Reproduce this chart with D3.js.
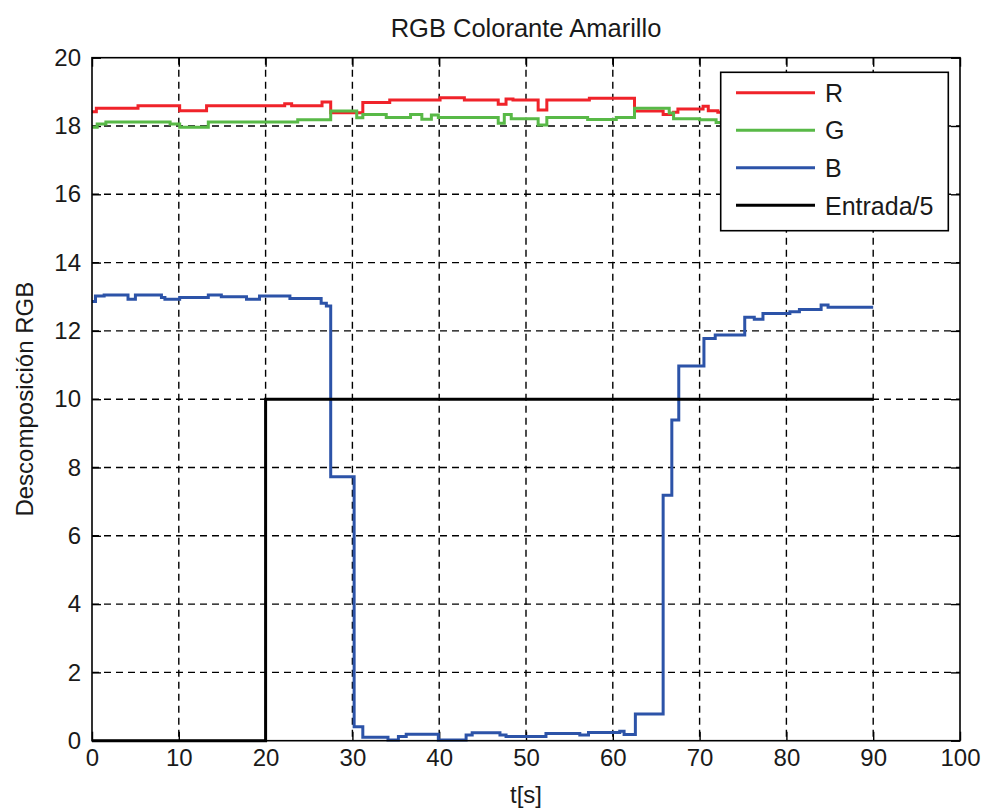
<!DOCTYPE html>
<html>
<head>
<meta charset="utf-8">
<script src="https://cdn.jsdelivr.net/npm/d3@7/dist/d3.min.js"></script>
<style>
  html, body { margin: 0; padding: 0; background: #fff; }
  svg { display: block; font-family: "Liberation Sans", Arial, sans-serif; }
</style>
</head>
<body>
<svg id="chart" width="984" height="812"></svg>
<script>
// Time breakpoints [s] and sensor readings, drawn as stair steps
const tR = [0, 0.5, 5.3, 10.1, 13.2, 22.2, 23.0, 26.5, 27.5, 31.2, 34.3, 40.1, 42.9, 46.8, 47.7, 48.5, 51.4, 52.4, 57.3, 62.5, 65.8, 67.0, 67.5, 70.4, 71.0, 72.1, 76.0, 82.0, 90.0];
const vR = [18.42, 18.52, 18.59, 18.45, 18.59, 18.65, 18.59, 18.70, 18.39, 18.69, 18.76, 18.83, 18.76, 18.64, 18.79, 18.76, 18.47, 18.76, 18.81, 18.44, 18.34, 18.40, 18.50, 18.58, 18.45, 18.40, 18.45, 18.40, 18.42];

const tG = [0, 0.6, 1.6, 9.0, 10.1, 13.4, 23.7, 27.5, 30.5, 31.2, 33.9, 36.7, 38.0, 39.1, 39.9, 46.8, 47.5, 48.3, 51.4, 52.4, 57.1, 60.4, 62.5, 66.5, 67.0, 70.0, 71.9, 76.0, 90.0];
const vG = [17.96, 18.06, 18.12, 18.06, 17.96, 18.12, 18.18, 18.44, 18.24, 18.34, 18.25, 18.34, 18.20, 18.32, 18.25, 18.08, 18.34, 18.21, 18.03, 18.25, 18.19, 18.25, 18.52, 18.38, 18.21, 18.18, 18.10, 18.12, 18.12];

const tB = [0, 0.4, 1.4, 4.15, 5.0, 8.0, 8.4, 10.1, 13.4, 14.9, 17.8, 19.3, 22.8, 26.4, 27.0, 27.5, 30.2, 31.2, 34.1, 35.3, 36.2, 39.9, 43.1, 43.8, 47.0, 47.7, 52.3, 56.2, 57.2, 60.8, 61.3, 62.6, 65.8, 66.8, 67.6, 70.5, 71.8, 75.2, 76.3, 77.3, 80.4, 81.5, 84.0, 84.8, 90.0];
const vB = [12.86, 13.02, 13.05, 12.93, 13.05, 12.98, 12.93, 12.98, 13.05, 13.00, 12.93, 13.02, 12.95, 12.81, 12.73, 7.73, 0.41, 0.10, 0.02, 0.12, 0.19, 0.02, 0.17, 0.23, 0.17, 0.12, 0.21, 0.17, 0.24, 0.28, 0.18, 0.78, 7.19, 9.39, 10.97, 11.78, 11.88, 12.40, 12.34, 12.51, 12.56, 12.63, 12.76, 12.69, 12.69];

const tIn = [0, 20, 90];
const vIn = [0, 10, 10];

const seriesNames = ["R", "G", "B", "Entrada/5"];
const seriesColors = ["#f0232a", "#58b947", "#2c53a8", "#000000"];

const xTicks = [0, 10, 20, 30, 40, 50, 60, 70, 80, 90, 100];
const yTicks = [0, 2, 4, 6, 8, 10, 12, 14, 16, 18, 20];

const titleText = "RGB Colorante Amarillo";
const xLabel = "t[s]";
const yLabel = "Descomposición RGB";

// Layout
const plotL = 92, plotR = 960, plotT = 57.7, plotB = 740.7;
const svg = d3.select("#chart");

const x = d3.scaleLinear().domain([0, 100]).range([plotL, plotR]);
const y = d3.scaleLinear().domain([0, 20]).range([plotB, plotT]);

// Grid
const grid = svg.append("g")
  .attr("stroke", "#000").attr("stroke-width", 1.4).attr("stroke-dasharray", "7,5");
grid.selectAll("line.gx").data(xTicks.slice(1, -1)).join("line")
  .attr("x1", d => x(d)).attr("x2", d => x(d)).attr("y1", plotT).attr("y2", plotB);
grid.selectAll("line.gy").data(yTicks.slice(1, -1)).join("line")
  .attr("y1", d => y(d)).attr("y2", d => y(d)).attr("x1", plotL).attr("x2", plotR);

// Axes with inward ticks on all four sides
const tickLen = 9;
const fontSize = 24;
const axB = svg.append("g").attr("transform", `translate(0,${plotB})`)
  .call(d3.axisBottom(x).tickValues(xTicks).tickSizeInner(-tickLen).tickSizeOuter(0).tickPadding(8));
const axT = svg.append("g").attr("transform", `translate(0,${plotT})`)
  .call(d3.axisTop(x).tickValues(xTicks).tickSizeInner(-tickLen).tickSizeOuter(0).tickFormat(""));
const axL = svg.append("g").attr("transform", `translate(${plotL},0)`)
  .call(d3.axisLeft(y).tickValues(yTicks).tickSizeInner(-tickLen).tickSizeOuter(0).tickPadding(11));
const axR = svg.append("g").attr("transform", `translate(${plotR},0)`)
  .call(d3.axisRight(y).tickValues(yTicks).tickSizeInner(-tickLen).tickSizeOuter(0).tickFormat(""));
[axB, axT, axL, axR].forEach(a => {
  a.select(".domain").remove();
  a.selectAll(".tick line").attr("stroke", "#000").attr("stroke-width", 1.4);
  a.selectAll(".tick text").attr("fill", "#1a1a1a")
    .style("font-family", '"Liberation Sans", Arial, sans-serif').style("font-size", fontSize + "px");
});

// Series lines
const line = d3.line().curve(d3.curveStepAfter).x(d => x(d[0])).y(d => y(d[1]));
const series = [[tR, vR], [tG, vG], [tB, vB], [tIn, vIn]];
series.forEach(([ts, vs], i) => {
  svg.append("path")
    .datum(d3.zip(ts, vs))
    .attr("fill", "none")
    .attr("stroke", seriesColors[i])
    .attr("stroke-width", 3)
    .attr("stroke-linejoin", "miter")
    .attr("d", line);
});

// Axes box
svg.append("rect")
  .attr("x", plotL).attr("y", plotT).attr("width", plotR - plotL).attr("height", plotB - plotT)
  .attr("fill", "none").attr("stroke", "#000").attr("stroke-width", 1.6);

// Legend
const lg = svg.append("g");
const lgX = 720.7, lgY = 72.3, lgW = 227.6, lgH = 158.4;
lg.append("rect").attr("x", lgX).attr("y", lgY).attr("width", lgW).attr("height", lgH)
  .attr("fill", "#fff").attr("stroke", "#000").attr("stroke-width", 1.6);
const rowY = d3.scaleLinear().domain([0, 3]).range([92.7, 205.3]);
seriesNames.forEach((name, i) => {
  lg.append("line")
    .attr("x1", 736).attr("x2", 815).attr("y1", rowY(i)).attr("y2", rowY(i))
    .attr("stroke", seriesColors[i]).attr("stroke-width", 3);
  lg.append("text")
    .attr("x", 825).attr("y", rowY(i)).attr("dy", "0.37em")
    .attr("font-size", 25).attr("fill", "#1a1a1a")
    .text(name);
});

// Title and labels
svg.append("text").attr("x", (plotL + plotR) / 2).attr("y", 37)
  .attr("text-anchor", "middle").attr("font-size", 25.5).attr("fill", "#1a1a1a")
  .text(titleText);
svg.append("text").attr("x", (plotL + plotR) / 2).attr("y", 803)
  .attr("text-anchor", "middle").attr("font-size", 24).attr("fill", "#1a1a1a")
  .text(xLabel);
svg.append("text")
  .attr("transform", `translate(33,${(plotT + plotB) / 2}) rotate(-90)`)
  .attr("text-anchor", "middle").attr("font-size", 24).attr("fill", "#1a1a1a")
  .text(yLabel);
</script>
</body>
</html>
